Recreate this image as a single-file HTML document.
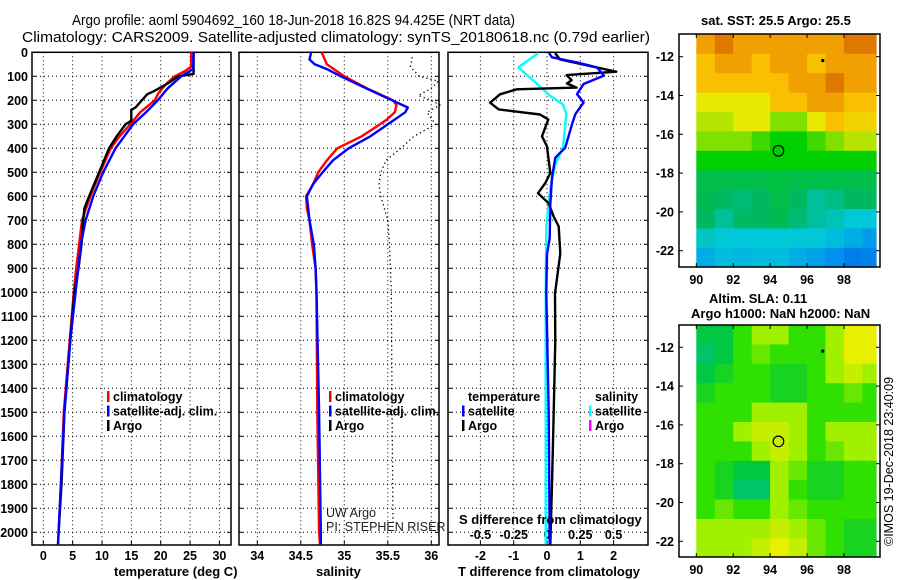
<!DOCTYPE html>
<html><head><meta charset="utf-8">
<style>
html,body{margin:0;padding:0;background:#fff;}
svg{display:block;font-family:"Liberation Sans",sans-serif;}
.tk{font-size:12.5px;font-weight:bold;fill:#000;}
.lb{font-size:13px;font-weight:bold;fill:#000;}
.lg{font-size:12.5px;font-weight:bold;fill:#000;}
</style></head>
<body>
<svg id="fig" width="900" height="580" viewBox="0 0 900 580">
<text x="72" y="25" textLength="443" lengthAdjust="spacingAndGlyphs" style="font-size:15px">Argo profile: aoml 5904692_160 18-Jun-2018 16.82S 94.425E (NRT data)</text>
<text x="22" y="42" textLength="628" lengthAdjust="spacingAndGlyphs" style="font-size:15px">Climatology: CARS2009. Satellite-adjusted climatology: synTS_20180618.nc (0.79d earlier)</text>
<g id="p1"></g>
<g id="p2"></g>
<g id="p3"></g>
<g id="m1"></g>
<g id="m2"></g>
<text class="lb" x="114" y="576">temperature (deg C)</text>
<text class="lb" x="316" y="576">salinity</text>
<text class="lb" x="458" y="576">T difference from climatology</text>
<text class="lb" x="459" y="524">S difference from climatology</text>
<text x="326" y="517" style="font-size:12.5px;fill:#222">UW Argo</text>
<text x="326" y="531" style="font-size:12.5px;fill:#222">PI: STEPHEN RISER</text>
<text class="lb" x="701" y="25">sat. SST: 25.5 Argo: 25.5</text>
<text class="lb" x="709" y="303">Altim. SLA: 0.11</text>
<text class="lb" x="691" y="318">Argo h1000: NaN h2000: NaN</text>
<text transform="translate(893,546) rotate(-90)" style="font-size:12.5px">©IMOS 19-Dec-2018 23:40:09</text>
</svg>
<script>
// ---------- data ----------
const depthTicks = [0,100,200,300,400,500,600,700,800,900,1000,1100,1200,1300,1400,1500,1600,1700,1800,1900,2000];
const tempTicks = [0,5,10,15,20,25,30];
const salTicks = [34,34.5,35,35.5,36];
const salTickLabels = ["34","34.5","35","35.5","36"];
const tdiffTicks = [-2,-1,0,1,2];
const sdiffTicks = [-0.5,-0.25,0,0.25,0.5];
const sdiffTickLabels = ["-0.5","-0.25","0","0.25","0.5"];

const tClimDepth = [0,60,80,100,130,170,200,250,300,350,400,500,600,700,800,900,1000,1200,1500,1800,2000,2050];
const tClimVal   = [25.2,25.2,24.0,22.4,21.0,19.6,19.0,16.5,14.8,13.0,11.5,9.7,8.0,6.6,6.1,5.6,5.2,4.5,3.5,3.0,2.6,2.5];
const tSatDepth  = [0,70,100,150,200,250,300,400,500,600,700,800,1000,1200,1500,1800,2000,2050];
const tSatVal    = [25.6,25.5,23.5,21.2,19.5,17.5,15.3,12.3,10.2,8.5,7.2,6.4,5.5,4.6,3.6,3.0,2.6,2.5];
const tArgoDepth = [0,90,100,130,160,175,230,240,285,300,350,400,500,600,650,700,800,900,1000,1200,1500,1800,2000];
const tArgoVal   = [25.6,25.6,23.0,21.2,19.0,17.7,15.7,15.0,15.0,14.0,12.5,11.2,9.5,7.8,7.0,6.8,6.5,6.0,5.3,4.6,3.6,3.1,2.6];

const sClimDepth = [0,50,80,100,150,200,220,250,280,300,350,400,450,500,550,600,650,700,800,900,1000,1500,2000,2050];
const sClimVal   = [34.74,34.8,34.92,35.0,35.26,35.56,35.6,35.58,35.49,35.41,35.2,34.92,34.8,34.7,34.64,34.56,34.57,34.6,34.63,34.67,34.68,34.69,34.71,34.72];
const sSatDepth  = [0,30,50,70,100,150,200,230,250,280,300,350,400,450,500,550,600,700,800,900,1000,1500,2000,2050];
const sSatVal    = [34.62,34.6,34.66,34.8,34.96,35.25,35.55,35.73,35.7,35.58,35.5,35.3,35.05,34.87,34.75,34.64,34.57,34.6,34.65,34.67,34.68,34.71,34.73,34.73];
const sDotDepth  = [20,60,100,120,150,180,200,220,250,300,350,400,450,500,550,600,700,800,1000,1500,1970];
const sDotVal    = [35.78,35.76,35.86,36.08,36.0,35.85,36.0,36.1,35.95,36.05,35.8,35.65,35.48,35.42,35.4,35.42,35.5,35.52,35.54,35.55,35.56];

const dtArgoDepth = [3,30,81,95,116,130,147,154,175,210,238,259,280,350,392,503,545,587,629,685,726,838,1005,1200,1500,1800,2050];
const dtArgoVal   = [0.24,0.39,2.08,0.59,0.74,0.6,0.89,-0.91,-1.41,-1.71,-1.45,-0.21,0.04,-0.15,0.0,0.1,-0.05,-0.27,0.05,0.2,0.35,0.4,0.24,0.25,0.2,0.15,0.1];
const dtSatDepth  = [3,21,42,63,97,132,174,209,258,300,397,439,522,634,773,843,1005,1500,2050];
const dtSatVal    = [0.06,0.15,0.9,1.5,1.71,1.1,0.9,1.1,0.85,0.75,0.55,0.25,0.15,0.1,0.08,0.0,-0.02,0.05,0.08];
const dsSatDepth  = [3,63,119,182,217,258,397,467,565,726,1005,1500,2050];
const dsSatVal    = [-0.065,-0.215,-0.1,0.025,0.12,0.145,0.12,0.062,0.025,-0.005,-0.01,-0.01,-0.01];

const sstGrid = [
 [8,9,8,8,8,8,8,8,9,9],
 [7,8,8,7,8,8,7,8,8,8],
 [7,7,7,7,7,8,8,9,8,8],
 [6,6,6,6,7,7,8,8,7,7],
 [5.5,5.5,6,6,5,5,6,7,6.5,6.5],
 [5,5,5,4.5,4,4,4.5,5,5.5,5.5],
 [4,4,4,4,4,4,4,4,4,4],
 [3.5,3.5,3.5,3.5,3.7,3.5,3.5,3.5,3.5,3.5],
 [3.3,3,2.8,3,3.5,3,2.5,2.7,3,3],
 [3,2.5,3,3,3.3,2.8,2.5,2.3,2,2],
 [2.2,2,2,2,2,2,2,1.8,1.5,1.2],
 [1.5,1.8,1.7,1.8,1.8,1.5,1.3,1,0.7,0.8]];
const slaGrid = [
 [1,1,2,3,3,2,2,3,4,4],
 [0.5,1,2,2.5,2,2,2,3,4,4],
 [1,1.5,2,2,1.5,1.5,2,3,3.5,3],
 [1.5,2,2,2,1.5,1.5,2,2,2.5,2],
 [2,2,2,3,3,3,2,2,2,2],
 [2,2,3,3.5,3.5,3,2,3,3,3],
 [2,2,2,3,3.5,3,2,2.5,3,3],
 [2,1.5,1,1,3,2.5,1.5,1.5,2,2],
 [2,1.5,0.5,0.5,3,2,1.5,1.5,2,2],
 [2,2.5,2,2,3,2.5,2,2,2,2],
 [3,3,3,3,3.5,3,2.5,2,1.5,1.5],
 [3,3,3,3.5,4,3.5,2.5,2,1.5,1.5]];
const lonTicks = [90,92,94,96,98];
const latTicks = [-12,-14,-16,-18,-20,-22];

// ---------- helpers ----------
const NS = "http://www.w3.org/2000/svg";
function mk(parent, tag, attrs){const e=document.createElementNS(NS,tag);for(const k in attrs)e.setAttribute(k,attrs[k]);parent.appendChild(e);return e;}
const TOP=52.3, BOT=545, DS=0.24;
const yD = d => TOP + d*DS;
const xT = t => 43.3 + t*5.87;
const xS = s => 257.3 + (s-34)*87;
const xDT = v => 547 + v*33.3;
const xDS = v => 547 + v*133.2;

function panel(g, x0, x1, xTicksPx, showDepthLabels){
  for(const d of depthTicks){
    const l=mk(g,'line',{x1:x0,x2:x1,y1:yD(d),y2:yD(d),stroke:'#000','stroke-width':1,'stroke-dasharray':'1 3'});
    
    
    mk(g,'line',{x1:x0,x2:x0+4,y1:yD(d),y2:yD(d),stroke:'#000'});
    mk(g,'line',{x1:x1-4,x2:x1,y1:yD(d),y2:yD(d),stroke:'#000'});
    if(showDepthLabels){
      const t=mk(g,'text',{x:x0-4,y:yD(d)+4.5,'text-anchor':'end',class:'tk'});
      t.textContent=d;
      
      
    }
  }
  for(const px of xTicksPx){
    const l=mk(g,'line',{x1:px,x2:px,y1:TOP,y2:BOT,stroke:'#000','stroke-width':1,'stroke-dasharray':'1 3'});
    
    
    mk(g,'line',{x1:px,x2:px,y1:BOT-4,y2:BOT,stroke:'#000'});
  }
  const r=mk(g,'rect',{x:x0,y:TOP,width:x1-x0,height:BOT-TOP,fill:'none',stroke:'#000','stroke-width':1.5});
  
  
}
function xLabels(g, vals, labels, fx, y){
  vals.forEach((v,i)=>{
    const t=mk(g,'text',{x:fx(v),y:y,'text-anchor':'middle',class:'tk'});
    t.textContent=labels[i];
    
    
  });
}
function line(g, depths, vals, fx, color, name, dash){
  const p = depths.map((d,i)=>(i?'L':'M')+fx(vals[i]).toFixed(1)+' '+yD(d).toFixed(1)).join(' ');
  const e=mk(g,'path',{d:p,fill:'none',stroke:color,'stroke-width':dash?1.3:2.4,'stroke-linejoin':'round'});
  if(dash) e.setAttribute('stroke-dasharray','1.3 3');
  
  
}
function legend(g, x, y, items){
  items.forEach((it,i)=>{
    if(it.c) mk(g,'rect',{x:x,y:y+i*14.5-10,width:2.5,height:11,fill:it.c});
    const t=mk(g,'text',{x:x+6,y:y+i*14.5,class:'lg'});
    t.textContent=it.t;
    
    
  });
}

// panel 1
const p1=document.getElementById('p1');
panel(p1,32,231,tempTicks.map(xT),true);
xLabels(p1,tempTicks,tempTicks.map(String),xT,560);
line(p1,tClimDepth,tClimVal,xT,'#f00','temp-climatology-line');
line(p1,tArgoDepth,tArgoVal,xT,'#000','temp-argo-line');
line(p1,tSatDepth,tSatVal,xT,'#00f','temp-satellite-line');
legend(p1,107,401,[{c:'#f00',t:'climatology'},{c:'#00f',t:'satellite-adj. clim.'},{c:'#000',t:'Argo'}]);

// panel 2
const p2=document.getElementById('p2');
panel(p2,239,439,salTicks.map(xS),false);
xLabels(p2,salTicks,salTickLabels,xS,560);
line(p2,sDotDepth,sDotVal,xS,'#000','salinity-dotted-line',true);
line(p2,sClimDepth,sClimVal,xS,'#f00','sal-climatology-line');
line(p2,sSatDepth,sSatVal,xS,'#00f','sal-satellite-line');
legend(p2,329,401,[{c:'#f00',t:'climatology'},{c:'#00f',t:'satellite-adj. clim.'},{c:'#000',t:'Argo'}]);

// panel 3
const p3=document.getElementById('p3');
panel(p3,448,648,tdiffTicks.map(xDT),false);
xLabels(p3,tdiffTicks,tdiffTicks.map(String),xDT,560);
xLabels(p3,sdiffTicks,sdiffTickLabels,xDS,539);
line(p3,dsSatDepth,dsSatVal,xDS,'#0ff','s-diff-satellite-line');
line(p3,dtArgoDepth,dtArgoVal,xDT,'#000','t-diff-argo-line');
line(p3,dtSatDepth,dtSatVal,xDT,'#00f','t-diff-satellite-line');
legend(p3,462,401,[{t:'temperature'},{c:'#00f',t:'satellite'},{c:'#000',t:'Argo'}]);
legend(p3,589,401,[{t:'salinity'},{c:'#0ff',t:'satellite'},{c:'#f0f',t:'Argo'}]);

// maps
function lerpColor(stops, v){
  if(v<=stops[0][0]) return stops[0][1];
  for(let i=1;i<stops.length;i++){
    if(v<=stops[i][0]){
      const a=stops[i-1],b=stops[i],f=(v-a[0])/(b[0]-a[0]);
      return a[1].map((x,k)=>Math.round(x+(b[1][k]-x)*f));
    }
  }
  return stops[stops.length-1][1];
}
const sstStops=[[0,[0,80,224]],[1,[0,144,240]],[2,[0,200,216]],[3,[0,184,96]],[3.7,[0,192,64]],[4,[0,208,0]],[5,[128,224,0]],[6,[232,232,0]],[7,[248,192,0]],[8,[240,160,0]],[9,[224,120,0]]];
const slaStops=[[0,[0,192,144]],[1,[0,200,64]],[2,[48,224,0]],[3,[160,240,0]],[4,[232,240,0]]];
function map(g, grid, stops, frameTop, frameBot, yLat12){
  const x0=679,x1=880, lonX=l=>696.3+(l-90)*18.46, latY=l=>yLat12+(-12-l)*19.4;
  const name = g.id==='m1'?'sst-cell':'sla-cell';
  grid.forEach((row,r)=>row.forEach((v,c)=>{
    const xa=lonX(90+c), xb=Math.min(lonX(91+c),876);
    const ya=Math.max(latY(-10.85-r),frameTop), yb=Math.min(latY(-11.85-r),frameBot);
    const col=lerpColor(stops,v);
    const e=mk(g,'rect',{x:xa.toFixed(1),y:ya.toFixed(1),width:(xb-xa+0.6).toFixed(1),height:(yb-ya+0.6).toFixed(1),fill:`rgb(${col})`});
    
    
  }));
  const fr=mk(g,'rect',{x:x0,y:frameTop,width:x1-x0,height:frameBot-frameTop,fill:'none',stroke:'#000','stroke-width':1.5});
  
  
  for(const l of lonTicks){
    mk(g,'line',{x1:lonX(l),x2:lonX(l),y1:frameTop,y2:frameTop+4,stroke:'#000'});
    mk(g,'line',{x1:lonX(l),x2:lonX(l),y1:frameBot-4,y2:frameBot,stroke:'#000'});
    const t=mk(g,'text',{x:lonX(l),y:frameBot+17,'text-anchor':'middle',class:'tk'});
    t.textContent=l;
    
    
  }
  for(const l of latTicks){
    mk(g,'line',{x1:x0,x2:x0+4,y1:latY(l),y2:latY(l),stroke:'#000'});
    mk(g,'line',{x1:x1-4,x2:x1,y1:latY(l),y2:latY(l),stroke:'#000'});
    const t=mk(g,'text',{x:x0-5,y:latY(l)+4.5,'text-anchor':'end',class:'tk'});
    t.textContent=l;
    
    
  }
  const ci=mk(g,'circle',{cx:lonX(94.45),cy:latY(-16.85),r:5.3,fill:'none',stroke:'#000','stroke-width':1.2});
  
  
  mk(g,'rect',{x:lonX(96.85)-1.5,y:latY(-12.2)-1.5,width:3,height:3,fill:'#000'});
}
map(document.getElementById('m1'),sstGrid,sstStops,34,267,56.7);
map(document.getElementById('m2'),slaGrid,slaStops,325,557,347.3);
</script>
</body></html>
